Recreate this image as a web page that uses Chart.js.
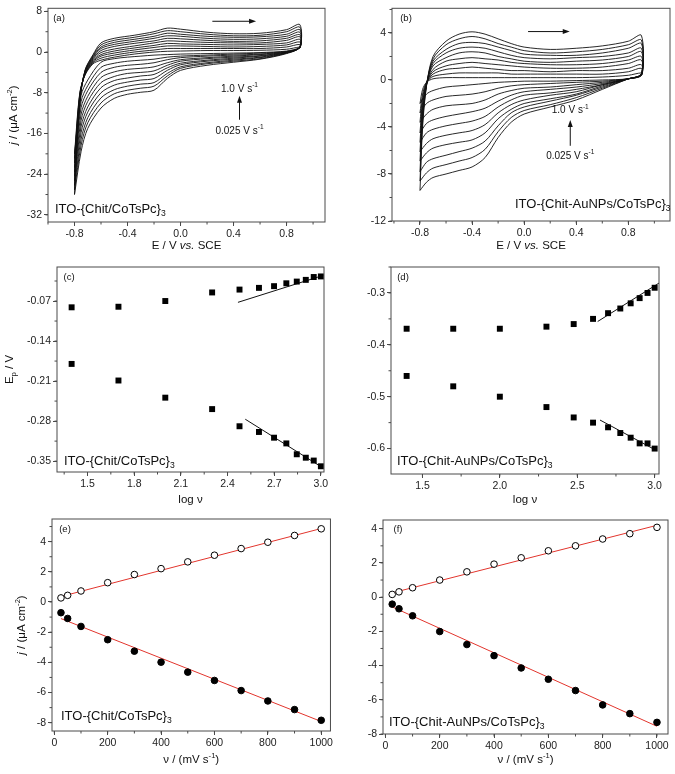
<!DOCTYPE html>
<html>
<head>
<meta charset="utf-8">
<script src="https://cdn.jsdelivr.net/npm/chart.js@4.4.0/dist/chart.umd.min.js"></script>
<style>
  body { margin: 0; background: #fff; width: 675px; height: 774px; position: relative; overflow: hidden; }
  canvas { position: absolute; }
</style>
</head>
<body>
<canvas id="ca" width="335" height="252" style="left:0;top:0"></canvas>
<canvas id="cb" width="340" height="252" style="left:335px;top:0"></canvas>
<canvas id="cc" width="335" height="258" style="left:0;top:250px"></canvas>
<canvas id="cd" width="340" height="258" style="left:335px;top:250px"></canvas>
<canvas id="ce" width="335" height="269" style="left:0;top:505px"></canvas>
<canvas id="cf" width="340" height="269" style="left:335px;top:505px"></canvas>
<script>
// ---- (a) CVs of ITO-{Chit/CoTsPc}3, 10 scans, slow (first) to fast (last)
var potFwdA = [-0.8, -0.76, -0.72, -0.66, -0.6, -0.5, -0.35, -0.2, -0.1, 0.0, 0.2, 0.4, 0.6, 0.8, 0.9];
var potRevA = [0.9, 0.8, 0.6, 0.4, 0.2, 0.0, -0.1, -0.2, -0.3, -0.4, -0.5, -0.6, -0.7, -0.75, -0.8];
var cvUpA = [
  [-20, -8, -4.5, -2.3, -1.6, -1.0, -0.4, 0.0, 0.15, 0.2, 0.3, 0.3, 0.35, 0.55, 1.0],
  [-20.9, -8.2, -4.4, -2.1, -1.2, -0.6, 0.0, 0.4, 0.7, 0.7, 0.7, 0.7, 0.7, 1.0, 1.5],
  [-21.8, -8.4, -4.3, -1.9, -0.8, -0.2, 0.4, 0.9, 1.2, 1.2, 1.1, 1.0, 1.1, 1.4, 2.0],
  [-22.7, -8.7, -4.2, -1.7, -0.5, 0.2, 0.8, 1.3, 1.7, 1.6, 1.5, 1.4, 1.5, 1.8, 2.5],
  [-23.6, -8.9, -4.1, -1.5, -0.1, 0.6, 1.2, 1.8, 2.2, 2.1, 1.9, 1.8, 1.8, 2.3, 3.0],
  [-24.4, -9.1, -3.9, -1.3, 0.3, 1.1, 1.7, 2.2, 2.7, 2.6, 2.3, 2.1, 2.2, 2.7, 3.4],
  [-25.3, -9.3, -3.8, -1.1, 0.7, 1.5, 2.1, 2.7, 3.2, 3.1, 2.7, 2.5, 2.6, 3.1, 3.9],
  [-26.2, -9.6, -3.7, -0.9, 1.0, 1.9, 2.5, 3.1, 3.7, 3.5, 3.1, 2.9, 3.0, 3.5, 4.4],
  [-27.1, -9.8, -3.6, -0.7, 1.4, 2.3, 2.9, 3.6, 4.2, 4.0, 3.5, 3.2, 3.3, 4.0, 4.9],
  [-28, -10, -3.5, -0.5, 1.8, 2.7, 3.3, 4.0, 4.7, 4.5, 3.9, 3.6, 3.7, 4.4, 5.4]
];
var cvDownA = [
  [0.8, 0.2, -0.1, -0.2, -0.3, -0.4, -0.5, -0.6, -0.8, -1.0, -1.3, -2.0, -5.5, -8.5, -20],
  [0.8, 0.1, -0.2, -0.4, -0.6, -0.8, -1.0, -1.4, -1.6, -1.8, -2.2, -3.0, -6.6, -9.7, -20.9],
  [0.8, 0.1, -0.4, -0.6, -0.8, -1.1, -1.5, -2.1, -2.4, -2.6, -3.0, -4.0, -7.6, -10.9, -21.8],
  [0.9, 0.0, -0.5, -0.8, -1.1, -1.5, -2.1, -2.9, -3.2, -3.4, -3.9, -5.0, -8.7, -12.2, -22.7],
  [0.9, 0.0, -0.7, -1.0, -1.3, -1.8, -2.6, -3.7, -4.0, -4.2, -4.8, -6.0, -9.7, -13.4, -23.6],
  [0.9, -0.1, -0.8, -1.2, -1.6, -2.2, -3.1, -4.4, -4.7, -5.1, -5.6, -7.0, -10.8, -14.6, -24.4],
  [0.9, -0.1, -1.0, -1.4, -1.8, -2.5, -3.6, -5.2, -5.5, -5.9, -6.5, -8.0, -11.8, -15.8, -25.3],
  [1.0, -0.2, -1.1, -1.6, -2.1, -2.9, -4.2, -6.0, -6.3, -6.7, -7.4, -9.0, -12.9, -17.1, -26.2],
  [1.0, -0.2, -1.3, -1.8, -2.3, -3.2, -4.7, -6.7, -7.1, -7.5, -8.2, -10.0, -13.9, -18.3, -27.1],
  [1.0, -0.3, -1.4, -2.0, -2.6, -3.6, -5.2, -7.5, -7.9, -8.3, -9.1, -11, -15, -19.5, -28]
];

// ---- (b) CVs of ITO-{Chit-AuNPs/CoTsPc}3
var potFwdB = [-0.8, -0.78, -0.75, -0.7, -0.6, -0.5, -0.4, -0.3, -0.2, -0.1, 0.0, 0.2, 0.4, 0.6, 0.8, 0.9];
var potRevB = [0.9, 0.8, 0.6, 0.4, 0.2, 0.0, -0.1, -0.2, -0.3, -0.4, -0.5, -0.6, -0.7, -0.75, -0.8];
var cvUpB = [
  [-2.0, -0.8, -0.2, 0.1, 0.2, 0.2, 0.2, 0.2, 0.2, 0.2, 0.2, 0.2, 0.2, 0.25, 0.4, 0.6],
  [-2.8, -1.2, -0.2, 0.3, 0.5, 0.6, 0.6, 0.6, 0.6, 0.5, 0.5, 0.5, 0.5, 0.5, 0.7, 1.0],
  [-3.6, -1.5, -0.3, 0.5, 0.9, 1.0, 1.1, 1.0, 0.9, 0.8, 0.8, 0.7, 0.8, 0.8, 1.0, 1.3],
  [-4.5, -1.9, -0.3, 0.7, 1.2, 1.4, 1.5, 1.4, 1.3, 1.2, 1.1, 1.0, 1.0, 1.1, 1.4, 1.7],
  [-5.3, -2.2, -0.3, 0.9, 1.6, 1.8, 1.9, 1.8, 1.7, 1.5, 1.4, 1.3, 1.3, 1.4, 1.7, 2.0],
  [-6.1, -2.6, -0.4, 1.2, 1.9, 2.3, 2.4, 2.3, 2.0, 1.8, 1.6, 1.5, 1.6, 1.7, 2.0, 2.4],
  [-6.9, -2.9, -0.4, 1.4, 2.3, 2.7, 2.8, 2.7, 2.4, 2.1, 1.9, 1.8, 1.9, 2.0, 2.3, 2.7],
  [-7.8, -3.3, -0.4, 1.6, 2.6, 3.1, 3.2, 3.1, 2.8, 2.5, 2.2, 2.1, 2.1, 2.3, 2.7, 3.1],
  [-8.6, -3.6, -0.5, 1.8, 3.0, 3.5, 3.7, 3.5, 3.1, 2.8, 2.5, 2.3, 2.4, 2.6, 3.0, 3.4],
  [-9.4, -4.0, -0.5, 2.0, 3.3, 3.9, 4.1, 3.9, 3.5, 3.1, 2.8, 2.6, 2.7, 2.9, 3.3, 3.8]
];
var cvDownB = [
  [0.4, 0.1, 0.0, -0.05, -0.1, -0.1, -0.15, -0.2, -0.3, -0.4, -0.5, -0.6, -0.9, -1.2, -2.0],
  [0.4, 0.1, -0.1, -0.2, -0.3, -0.4, -0.5, -0.7, -1.0, -1.2, -1.3, -1.4, -1.7, -2.0, -2.8],
  [0.4, 0.1, -0.2, -0.4, -0.6, -0.7, -0.9, -1.2, -1.7, -2.0, -2.1, -2.2, -2.5, -2.9, -3.6],
  [0.4, 0.1, -0.3, -0.6, -0.8, -1.0, -1.3, -1.8, -2.4, -2.7, -2.9, -3.1, -3.4, -3.7, -4.5],
  [0.4, 0.1, -0.4, -0.8, -1.1, -1.3, -1.7, -2.3, -3.1, -3.5, -3.7, -3.9, -4.2, -4.5, -5.3],
  [0.5, 0.1, -0.4, -1.0, -1.3, -1.7, -2.1, -2.8, -3.8, -4.3, -4.5, -4.7, -5.0, -5.4, -6.1],
  [0.5, 0.1, -0.5, -1.2, -1.6, -2.0, -2.5, -3.3, -4.5, -5.1, -5.3, -5.5, -5.8, -6.2, -6.9],
  [0.5, 0.1, -0.6, -1.3, -1.8, -2.3, -2.8, -3.9, -5.2, -5.8, -6.1, -6.4, -6.7, -7.0, -7.8],
  [0.5, 0.1, -0.7, -1.5, -2.1, -2.6, -3.2, -4.4, -5.9, -6.6, -6.9, -7.2, -7.5, -7.9, -8.6],
  [0.5, 0.1, -0.8, -1.7, -2.3, -2.9, -3.6, -4.9, -6.6, -7.4, -7.7, -8.0, -8.3, -8.7, -9.4]
];

// ---- (c), (d) peak potentials vs log of scan rate
var logV = [1.398, 1.699, 2.0, 2.301, 2.477, 2.602, 2.699, 2.778, 2.845, 2.903, 2.954, 3.0];
var epAnodicC = [-0.081, -0.080, -0.070, -0.055, -0.050, -0.047, -0.044, -0.039, -0.036, -0.033, -0.028, -0.027];
var epCathodicC = [-0.180, -0.209, -0.239, -0.259, -0.289, -0.299, -0.309, -0.319, -0.338, -0.344, -0.349, -0.359];
var fitAnodicC = [[2.467, -0.0723], [3.017, -0.025]];
var fitCathodicC = [[2.514, -0.2767], [2.985, -0.357]];
var epAnodicD = [-0.369, -0.369, -0.369, -0.365, -0.360, -0.350, -0.339, -0.330, -0.320, -0.310, -0.300, -0.290];
var epCathodicD = [-0.460, -0.480, -0.500, -0.520, -0.540, -0.550, -0.559, -0.570, -0.579, -0.590, -0.590, -0.600];
var fitAnodicD = [[2.632, -0.355], [3.028, -0.281]];
var fitCathodicD = [[2.647, -0.545], [3.013, -0.604]];

// ---- (e), (f) peak current density vs scan rate
var scanRate = [25, 50, 100, 200, 300, 400, 500, 600, 700, 800, 900, 1000];
var jAnodicE = [0.27, 0.44, 0.73, 1.28, 1.82, 2.21, 2.66, 3.10, 3.54, 3.96, 4.41, 4.85];
var jCathodicE = [-0.71, -1.09, -1.62, -2.50, -3.26, -3.99, -4.65, -5.20, -5.87, -6.56, -7.13, -7.84];
var fitAnodicE = [[25, 0.36], [1000, 4.87]];
var fitCathodicE = [[25, -1.10], [1000, -7.92]];
var jAnodicF = [0.16, 0.31, 0.55, 1.00, 1.48, 1.93, 2.30, 2.71, 3.00, 3.40, 3.71, 4.08];
var jCathodicF = [-0.41, -0.68, -1.09, -2.01, -2.77, -3.42, -4.14, -4.80, -5.46, -6.30, -6.81, -7.32];
var fitAnodicF = [[25, 0.25], [1000, 4.20]];
var fitCathodicF = [[25, -0.57], [1000, -7.55]];

// tick labels
var ticksXA = [-0.8, -0.4, 0.0, 0.4, 0.8];
var ticksYA = [-32, -24, -16, -8, 0, 8];
var ticksYB = [-12, -8, -4, 0, 4];
var ticksXC = [1.5, 1.8, 2.1, 2.4, 2.7, 3.0];
var ticksYC = [-0.35, -0.28, -0.21, -0.14, -0.07];
var ticksXD = [1.5, 2.0, 2.5, 3.0];
var ticksYD = [-0.6, -0.5, -0.4, -0.3];
var ticksXE = [0, 200, 400, 600, 800, 1000];
var ticksYE = [-8, -6, -4, -2, 0, 2, 4];

var fontFam = '"Liberation Sans", Arial, Helvetica, sans-serif';
Chart.defaults.font.family = fontFam;
Chart.defaults.font.size = 10.5;
Chart.defaults.color = '#222';

var frameColor = '#4a4a4a';
var fitRed = '#e2352d';

function setFont(ctx, seg, size) {
  var s = (seg.sup || seg.sub) ? size * 0.66 : size;
  ctx.font = (seg.it ? 'italic ' : '') + s + 'px ' + fontFam;
}

function drawRich(ctx, segs, x, y, size, align) {
  var w = 0;
  segs.forEach(function(seg) { setFont(ctx, seg, size); w += ctx.measureText(seg.t).width; });
  var cx = align === 'center' ? x - w / 2 : (align === 'right' ? x - w : x);
  ctx.textBaseline = 'middle';
  ctx.textAlign = 'left';
  ctx.fillStyle = '#111';
  segs.forEach(function(seg) {
    setFont(ctx, seg, size);
    var dy = seg.sup ? -size * 0.38 : (seg.sub ? size * 0.38 : 0);
    ctx.fillText(seg.t, cx, y + dy);
    cx += ctx.measureText(seg.t).width;
  });
}

function arrow(ctx, x1, y1, x2, y2) {
  var ang = Math.atan2(y2 - y1, x2 - x1);
  ctx.strokeStyle = '#111';
  ctx.fillStyle = '#111';
  ctx.lineWidth = 1;
  ctx.beginPath();
  ctx.moveTo(x1, y1);
  ctx.lineTo(x2 - 5 * Math.cos(ang), y2 - 5 * Math.sin(ang));
  ctx.stroke();
  ctx.beginPath();
  ctx.moveTo(x2, y2);
  ctx.lineTo(x2 - 7 * Math.cos(ang) + 2.5 * Math.sin(ang), y2 - 7 * Math.sin(ang) - 2.5 * Math.cos(ang));
  ctx.lineTo(x2 - 7 * Math.cos(ang) - 2.5 * Math.sin(ang), y2 - 7 * Math.sin(ang) + 2.5 * Math.cos(ang));
  ctx.closePath();
  ctx.fill();
}

// frame, minor ticks, axis titles and labels
var deco = {
  id: 'deco',
  afterDraw: function(chart, args, o) {
    var ctx = chart.ctx, a = chart.chartArea;
    var xs = chart.scales.x, ys = chart.scales.y;
    ctx.save();
    ctx.strokeStyle = frameColor;
    ctx.lineWidth = 1;
    ctx.strokeRect(a.left, a.top, a.right - a.left, a.bottom - a.top);

    ctx.beginPath();
    var v, p;
    for (v = Math.ceil(xs.min / o.minorX) * o.minorX; v <= xs.max + 1e-9; v += o.minorX) {
      p = xs.getPixelForValue(v);
      ctx.moveTo(p, a.bottom); ctx.lineTo(p, a.bottom + 2.5);
    }
    for (v = Math.ceil(ys.min / o.minorY) * o.minorY; v <= ys.max + 1e-9; v += o.minorY) {
      p = ys.getPixelForValue(v);
      ctx.moveTo(a.left, p); ctx.lineTo(a.left - 2.5, p);
    }
    ctx.stroke();

    // panel letter
    ctx.fillStyle = '#111';
    ctx.font = '9.5px ' + fontFam;
    ctx.textAlign = 'center';
    ctx.textBaseline = 'middle';
    ctx.fillText(o.letter, a.left + o.letterPos[0], a.top + o.letterPos[1]);

    // film label
    drawRich(ctx, o.film, a.left + o.filmPos[0], a.bottom + o.filmPos[1], 13, 'left');

    // x title
    drawRich(ctx, o.xTitle, (a.left + a.right) / 2, a.bottom + o.xTitleDy, 11.5, 'center');

    // y title
    if (o.yTitle) {
      ctx.save();
      ctx.translate(a.left - o.yTitleDx, (a.top + a.bottom) / 2);
      ctx.rotate(-Math.PI / 2);
      drawRich(ctx, o.yTitle, 0, 0, 11.5, 'center');
      ctx.restore();
    }

    // scan direction and scan-rate arrows (data coordinates)
    if (o.dirArrow) {
      var d = o.dirArrow;
      arrow(ctx, xs.getPixelForValue(d[0]), ys.getPixelForValue(d[2]), xs.getPixelForValue(d[1]), ys.getPixelForValue(d[2]));
      var r = o.rateArrow;
      var rx = xs.getPixelForValue(r[0]);
      arrow(ctx, rx, ys.getPixelForValue(r[1]), rx, ys.getPixelForValue(r[2]));
      drawRich(ctx, [{t: '1.0 V s'}, {t: '-1', sup: true}], rx, ys.getPixelForValue(r[3]), 10, 'center');
      drawRich(ctx, [{t: '0.025 V s'}, {t: '-1', sup: true}], rx, ys.getPixelForValue(r[4]), 10, 'center');
    }
    ctx.restore();
  }
};

function axis(min, max, ticks, digits, fixed, isX) {
  return {
    type: 'linear',
    min: min,
    max: max,
    afterBuildTicks: function(s) { s.ticks = ticks.map(function(t) { return {value: t}; }); },
    afterFit: function(s) { if (isX) s.height = fixed; else s.width = fixed; },
    grid: { display: true, drawOnChartArea: false, drawTicks: true, tickLength: 4, color: frameColor, lineWidth: 1 },
    border: { display: false },
    ticks: {
      padding: 2,
      maxRotation: 0,
      autoSkip: false,
      color: '#222',
      callback: function(v) { return Number(v).toFixed(digits); }
    }
  };
}

function makeChart(id, p) {
  return new Chart(document.getElementById(id), {
    type: 'scatter',
    data: { datasets: p.datasets },
    options: {
      responsive: false,
      animation: false,
      events: [],
      layout: { autoPadding: false, padding: { left: 0, top: p.pt, right: p.pr, bottom: 0 } },
      scales: {
        x: axis(p.x[0], p.x[1], p.xTicks, p.xDigits, p.xh, true),
        y: axis(p.y[0], p.y[1], p.yTicks, p.yDigits, p.yw, false)
      },
      plugins: { legend: { display: false }, tooltip: { enabled: false }, deco: p.deco }
    },
    plugins: [deco]
  });
}

function cvSets(potF, potR, ups, downs) {
  return ups.map(function(up, k) {
    var pts = [];
    potF.forEach(function(e, i) { pts.push({x: e, y: up[i]}); });
    potR.forEach(function(e, i) { pts.push({x: e, y: downs[k][i]}); });
    return { data: pts, showLine: true, borderColor: '#111', borderWidth: 0.9, pointRadius: 0, tension: 0.3 };
  });
}

function pairs(xs, ys) { return xs.map(function(x, i) { return {x: x, y: ys[i]}; }); }
function fitSet(f, color) {
  return { data: f.map(function(q) { return {x: q[0], y: q[1]}; }), showLine: true, borderColor: color, borderWidth: 1, pointRadius: 0 };
}
function squares(ys) {
  return { data: pairs(logV, ys), pointStyle: 'rect', pointRadius: 4.2, backgroundColor: '#000', borderWidth: 0 };
}
function circles(ys, open) {
  return { data: pairs(scanRate, ys), pointStyle: 'circle', pointRadius: 3.3,
    backgroundColor: open ? '#fff' : '#000', borderColor: '#000', borderWidth: 1 };
}

var eTitle = [{t: 'E / V '}, {t: 'vs.', it: true}, {t: ' SCE'}];
var jTitle = [{t: 'j', it: true}, {t: ' / (\u03bcA cm'}, {t: '-2', sup: true}, {t: ')'}];
var vTitle = [{t: '\u03bd / (mV s'}, {t: '-1', sup: true}, {t: ')'}];
var logTitle = [{t: 'log \u03bd'}];
var filmA = [{t: 'ITO-{Chit/CoTsPc}'}, {t: '3', sub: true}];
var filmB = [{t: 'ITO-{Chit-AuNPs/CoTsPc}'}, {t: '3', sub: true}];

makeChart('ca', {
  datasets: cvSets(potFwdA, potRevA, cvUpA, cvDownA),
  x: [-1.0, 1.09], y: [-33.4, 8.6], xTicks: ticksXA, yTicks: ticksYA, xDigits: 1, yDigits: 0,
  yw: 48, xh: 30, pt: 6, pr: 10,
  deco: { minorX: 0.2, minorY: 4, letter: '(a)', letterPos: [11, 10], film: filmA, filmPos: [7, -13],
    xTitle: eTitle, xTitleDy: 24, yTitle: jTitle, yTitleDx: 34,
    dirArrow: [0.24, 0.57, 6.05], rateArrow: [0.445, -13.3, -8.6, -7.3, -15.6] }
});

makeChart('cb', {
  datasets: cvSets(potFwdB, potRevB, cvUpB, cvDownB),
  x: [-1.015, 1.12], y: [-12, 6.1], xTicks: ticksXA, yTicks: ticksYB, xDigits: 1, yDigits: 0,
  yw: 57, xh: 31, pt: 6, pr: 5,
  deco: { minorX: 0.2, minorY: 2, letter: '(b)', letterPos: [14, 10], film: filmB, filmPos: [123, -17],
    xTitle: eTitle, xTitleDy: 25,
    dirArrow: [0.03, 0.35, 4.12], rateArrow: [0.354, -5.6, -3.4, -2.6, -6.5] }
});

makeChart('cc', {
  datasets: [squares(epAnodicC), squares(epCathodicC), fitSet(fitAnodicC, '#111'), fitSet(fitCathodicC, '#111')],
  x: [1.304, 3.02], y: [-0.369, -0.0105], xTicks: ticksXC, yTicks: ticksYC, xDigits: 1, yDigits: 2,
  yw: 57, xh: 36, pt: 17, pr: 11,
  deco: { minorX: 0.15, minorY: 0.035, letter: '(c)', letterPos: [12, 10], film: filmA, filmPos: [7, -11],
    xTitle: logTitle, xTitleDy: 28, yTitle: [{t: 'E'}, {t: 'p', sub: true}, {t: ' / V'}], yTitleDx: 47 }
});

makeChart('cd', {
  datasets: [squares(epAnodicD), squares(epCathodicD), fitSet(fitAnodicD, '#111'), fitSet(fitCathodicD, '#111')],
  x: [1.297, 3.028], y: [-0.649, -0.25], xTicks: ticksXD, yTicks: ticksYD, xDigits: 1, yDigits: 1,
  yw: 56, xh: 34, pt: 17, pr: 16,
  deco: { minorX: 0.25, minorY: 0.05, letter: '(d)', letterPos: [12, 10], film: filmB, filmPos: [6, -13],
    xTitle: logTitle, xTitleDy: 26 }
});

makeChart('ce', {
  datasets: [circles(jAnodicE, true), circles(jCathodicE, false), fitSet(fitAnodicE, fitRed), fitSet(fitCathodicE, fitRed)],
  x: [-8.6, 1034.6], y: [-8.55, 5.5], xTicks: ticksXE, yTicks: ticksYE, xDigits: 0, yDigits: 0,
  yw: 52, xh: 43, pt: 14, pr: 3,
  deco: { minorX: 100, minorY: 1, letter: '(e)', letterPos: [13, 10], film: filmA, filmPos: [9, -15],
    xTitle: vTitle, xTitleDy: 29, yTitle: jTitle, yTitleDx: 30 }
});

makeChart('cf', {
  datasets: [circles(jAnodicF, true), circles(jCathodicF, false), fitSet(fitAnodicF, fitRed), fitSet(fitCathodicF, fitRed)],
  x: [-8.9, 1040.6], y: [-8, 4.51], xTicks: ticksXE, yTicks: ticksYE, xDigits: 0, yDigits: 0,
  yw: 48, xh: 40, pt: 15, pr: 7,
  deco: { minorX: 100, minorY: 1, letter: '(f)', letterPos: [15, 9], film: filmB, filmPos: [6, -12],
    xTitle: vTitle, xTitleDy: 26 }
});
</script>
</body>
</html>
